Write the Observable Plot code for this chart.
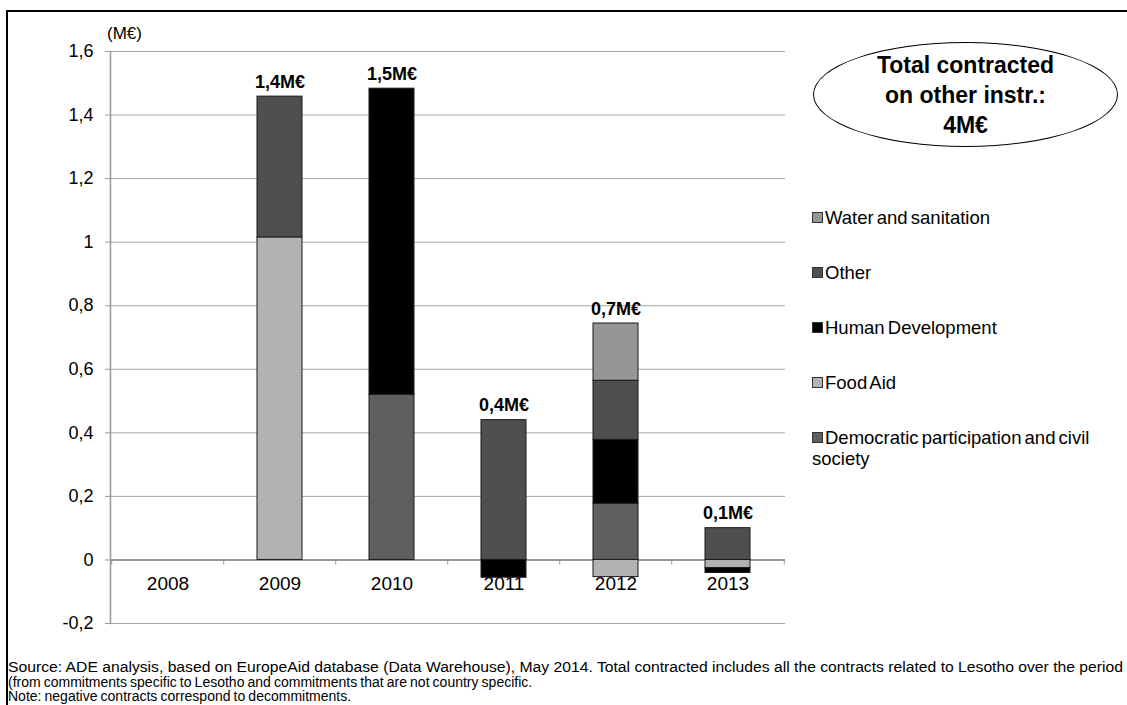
<!DOCTYPE html>
<html><head><meta charset="utf-8">
<script src="https://cdn.jsdelivr.net/npm/d3@7"></script>
<script src="https://cdn.jsdelivr.net/npm/@observablehq/plot@0.6"></script>
<style>
body{margin:0;width:1127px;height:705px;overflow:hidden;position:relative;background:#fff;font-family:"Liberation Sans",Arial,sans-serif;color:#000;}
#frame{position:absolute;left:6px;top:10px;width:1200px;height:800px;border-left:2px solid #000;border-top:2px solid #000;}
#chart{position:absolute;left:0;top:0;}
#unit{position:absolute;left:107px;top:24px;font-size:17px;}
#ellipse{position:absolute;left:813px;top:42px;width:305px;height:105px;border:1px solid #000;border-radius:50%;box-sizing:border-box;display:flex;align-items:center;justify-content:center;text-align:center;font-weight:bold;font-size:23px;line-height:30px;}
#legend{position:absolute;left:812px;top:0;font-size:18.5px;word-spacing:-2px;}
.li{position:absolute;left:0;white-space:nowrap;line-height:21px;}
.sw{display:inline-block;width:9px;height:9px;border:1px solid #333;margin-right:2px;vertical-align:1px;}
#notes{position:absolute;left:8px;top:660px;font-size:14px;line-height:14.5px;}
#notes div{white-space:nowrap;}
#l1{display:inline-block;transform-origin:0 0;}
.cond{word-spacing:-0.8px;}
</style>
</head><body>
<div id="frame"></div>
<div id="chart"></div>
<div id="unit">(M€)</div>
<div id="ellipse"><div>Total contracted<br>on other instr.:<br>4M€</div></div>
<div id="legend"></div>
<div id="notes">
<div><span id="l1">Source: ADE analysis, based on EuropeAid database (Data Warehouse), May 2014. Total contracted includes all the contracts related to Lesotho over the period</span></div>
<div class="cond">(from commitments specific to Lesotho and commitments that are not country specific.</div>
<div class="cond">Note: negative contracts correspond to decommitments.</div>
</div>
<script>
const years = ["2008", "2009", "2010", "2011", "2012", "2013"];
const seriesNames = ["Democratic participation and civil society", "Food Aid", "Human Development", "Other", "Water and sanitation"];
const seriesColors = ["#5f5f5f", "#b2b2b2", "#000000", "#4f4f4f", "#969696"];
const democratic = [0, 0, 0.52, 0, 0.177, 0];
const foodAid = [0, 1.015, 0, 0, -0.054, -0.026];
const humanDev = [0, 0, 0.963, -0.056, 0.201, -0.015];
const other = [0, 0.443, 0, 0.44, 0.186, 0.1];
const water = [0, 0, 0, 0, 0.18, 0];
const totalLabels = ["", "1,4M€", "1,5M€", "0,4M€", "0,7M€", "0,1M€"];
const yTicks = [-0.2, 0, 0.2, 0.4, 0.6, 0.8, 1, 1.2, 1.4, 1.6];
const legendOrder = ["Water and sanitation", "Other", "Human Development", "Food Aid", "Democratic participation and civil society"];

const valuesBySeries = [democratic, foodAid, humanDev, other, water];
const table = [];
seriesNames.forEach((s, i) => years.forEach((y, j) => {
  const v = valuesBySeries[i][j];
  if (v !== 0) table.push({year: y, series: s, value: v});
}));
const totals = years.map((y, j) => ({year: y, top: d3.sum(valuesBySeries, v => Math.max(0, v[j])), label: totalLabels[j]})).filter(d => d.label);
const fmt = d => String(Math.round(d * 10) / 10).replace(".", ",");

const plot = Plot.plot({
  width: 1127, height: 705,
  marginLeft: 110, marginRight: 342, marginTop: 51, marginBottom: 82,
  style: {fontFamily: "Liberation Sans, Arial, sans-serif", background: "transparent", overflow: "visible", color: "#000"},
  x: {type: "band", domain: years, paddingInner: 0.6, paddingOuter: 0.3, axis: null},
  y: {domain: [-0.2, 1.6], axis: null},
  color: {domain: seriesNames, range: seriesColors},
  marks: [
    Plot.gridY(yTicks, {stroke: "#a6a6a6", strokeOpacity: 1}),
    Plot.axisY(yTicks, {tickSize: 5, tickPadding: 12, tickFormat: fmt, fontSize: 18, stroke: "#999", strokeOpacity: 1, fill: "#000"}),
    Plot.frame({anchor: "left", stroke: "#999", strokeWidth: 1.5}),
    Plot.ruleY([0], {stroke: "#999", strokeWidth: 2}),
    Plot.ruleX(years, {x: d => d, y1: 0, y2: -0.016, dx: -56.25, stroke: "#999"}),
    Plot.ruleX(years.slice(-1), {x: d => d, y1: 0, y2: -0.016, dx: 56.25, stroke: "#999"}),
    Plot.text(years, {x: d => d, y: 0, dy: 24, fontSize: 19, fill: "#000"}),
    Plot.barY(table, {x: "year", y: "value", fill: "series", stroke: "#1a1a1a", strokeWidth: 1}),
    Plot.text(totals, {x: "year", y: "top", text: "label", fontSize: 18, fontWeight: "bold", lineAnchor: "bottom", dy: -9, fill: "#000"})
  ]
});
document.getElementById("chart").appendChild(plot);

const legendTops = {"Water and sanitation": 207, "Other": 262, "Human Development": 317, "Food Aid": 372, "Democratic participation and civil society": 427};
const lg = document.getElementById("legend");
legendOrder.forEach(name => {
  const i = seriesNames.indexOf(name);
  const d = document.createElement("div");
  d.className = "li";
  d.style.top = legendTops[name] + "px";
  const label = name === "Democratic participation and civil society" ? "Democratic participation and civil<br>society" : name;
  d.innerHTML = `<span class="sw" style="background:${seriesColors[i]}"></span>${label}`;
  lg.appendChild(d);
});

// fit the first note line to the available width
const l1 = document.getElementById("l1");
const w = l1.getBoundingClientRect().width;
l1.style.transform = `scaleX(${1115 / w})`;
</script>
</body></html>
